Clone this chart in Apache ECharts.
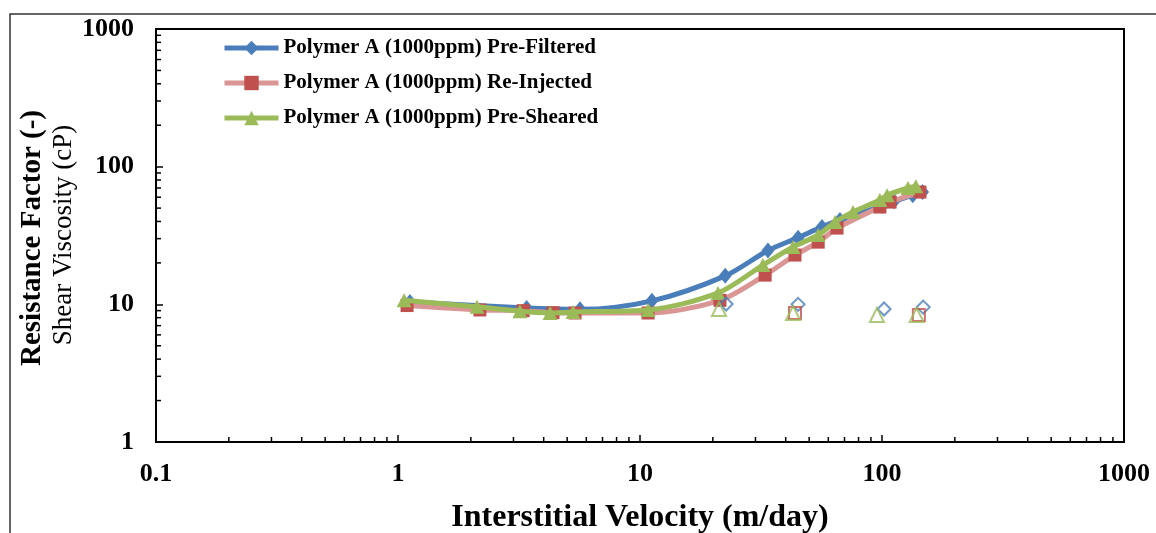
<!DOCTYPE html>
<html>
<head>
<meta charset="utf-8">
<script src="https://cdn.jsdelivr.net/npm/echarts@6/dist/echarts.min.js"></script>
<style>html,body{margin:0;padding:0;background:#fff;}#c{width:1156px;height:533px;}</style>
</head>
<body>
<div id="c"></div>
<script>
// ---- data ----
const seriesNames = ['Polymer A (1000ppm) Pre-Filtered', 'Polymer A (1000ppm) Re-Injected', 'Polymer A (1000ppm) Pre-Sheared'];
const preFilteredX = [1.12, 3.4, 5.65, 11.2, 22.5, 33.8, 45, 56.5, 67, 100, 112, 134, 147];
const preFilteredY = [10.4, 9.4, 9.2, 10.6, 16.1, 24.6, 30.5, 36.5, 41, 52, 56, 62, 65.5];
const reInjectedX = [1.09, 2.18, 3.29, 4.37, 5.39, 10.8, 21.4, 32.9, 43.7, 54.5, 65.2, 98, 108, 143.5];
const reInjectedY = [9.8, 9.1, 9.0, 8.7, 8.65, 8.65, 10.7, 16.3, 22.8, 28.3, 35.8, 50.9, 55.3, 65.4];
const preShearedX = [1.06, 2.12, 3.19, 4.25, 5.29, 10.8, 21, 32.2, 42.9, 54.5, 64, 75.9, 98, 105, 128, 138];
const preShearedY = [10.7, 9.6, 8.9, 8.65, 8.8, 9.1, 12.1, 19.3, 26.1, 31.9, 39.6, 46.8, 57.2, 62, 70, 72];
// shear viscosity (hollow markers)
const viscFilteredX = [22.7, 45, 102, 148];
const viscFilteredY = [10.05, 10.0, 9.25, 9.55];
const viscInjectedX = [43.7, 142];
const viscInjectedY = [8.65, 8.36];
const viscShearedX = [21.2, 42.9, 95.3, 139];
const viscShearedY = [9.25, 8.65, 8.36, 8.36];
// axes
const xTickLabels = ['0.1', '1', '10', '100', '1000'];
const yTickLabels = ['1', '10', '100', '1000'];
const xDecades = [0.1, 1, 10, 100];
const yDecades = [1, 10, 100];
const minorMult = [2, 3, 4, 5, 6, 7, 8, 9];

const zip = (xs, ys) => xs.map((x, i) => [x, ys[i]]);
const xMinor = [];
xDecades.forEach(d => minorMult.forEach(m => xMinor.push([+(d * m).toPrecision(3), 1])));
const yMinor = [];
yDecades.forEach(d => minorMult.forEach(m => yMinor.push([0.1, +(d * m).toPrecision(3)])));

const FONT = "'Liberation Serif','Times New Roman',serif";
const BLUE = '#4A7EBB', RED_L = '#D99694', RED = '#C0504D', GREEN = '#9BBB59';

const chart = echarts.init(document.getElementById('c'), null, {renderer: 'canvas'});
chart.setOption({
  animation: false,
  backgroundColor: '#fff',
  grid: {left: 156, right: 32, top: 29, bottom: 91, show: true, borderColor: '#000', borderWidth: 2,
    containLabel: false, outerBoundsMode: 'none'},
  legend: {
    data: seriesNames,
    orient: 'vertical',
    left: 222, top: 37, padding: 0,
    itemWidth: 54, itemHeight: 18, itemGap: 13,
    lineStyle: {width: 5},
    textStyle: {fontFamily: FONT, fontWeight: 'bold', fontSize: 21, color: '#000', lineHeight: 22}
  },
  xAxis: {
    type: 'log', logBase: 10, min: 0.1, max: 1000,
    name: 'Interstitial Velocity (m/day)', nameLocation: 'middle', nameGap: 60,
    nameTextStyle: {fontFamily: FONT, fontWeight: 'bold', fontSize: 32, color: '#000'},
    axisLine: {show: true, lineStyle: {color: '#000', width: 2}},
    axisTick: {show: true, inside: true, length: 7, lineStyle: {color: '#000', width: 1.5}},
    axisLabel: {fontFamily: FONT, fontWeight: 'bold', fontSize: 26, color: '#000', margin: 19,
      formatter: v => xTickLabels[Math.round(Math.log10(v)) + 1]},
    splitLine: {show: false}
  },
  yAxis: {
    type: 'log', logBase: 10, min: 1, max: 1000,
    axisLine: {show: true, lineStyle: {color: '#000', width: 2}},
    axisTick: {show: true, inside: true, length: 7, lineStyle: {color: '#000', width: 1.5}},
    axisLabel: {fontFamily: FONT, fontWeight: 'bold', fontSize: 26, color: '#000', margin: 22,
      formatter: v => yTickLabels[Math.round(Math.log10(v))]},
    splitLine: {show: false}
  },
  graphic: [
    {type: 'rect', z: -10, shape: {x: 10, y: 14, width: 1400, height: 800},
      style: {fill: 'none', stroke: '#333', lineWidth: 1.5}},
    {type: 'text', x: 33, y: 238, rotation: Math.PI / 2,
      style: {text: 'Resistance Factor (-)', font: "bold 29px 'Liberation Serif'", fill: '#000',
        textAlign: 'center', textVerticalAlign: 'middle', align: 'center', verticalAlign: 'middle'}},
    {type: 'text', x: 64, y: 235, rotation: Math.PI / 2,
      style: {text: 'Shear Viscosity (cP)', font: "27px 'Liberation Serif'", fill: '#000',
        textAlign: 'center', textVerticalAlign: 'middle', align: 'center', verticalAlign: 'middle'}}
  ],
  series: [
    {type: 'custom', name: 'xminor', silent: true, data: xMinor,
      renderItem: (p, api) => { const c = api.coord([api.value(0), api.value(1)]);
        return {type: 'line', shape: {x1: c[0], y1: c[1], x2: c[0], y2: c[1] - 5}, style: {stroke: '#000', lineWidth: 1.5}}; }},
    {type: 'custom', name: 'yminor', silent: true, data: yMinor,
      renderItem: (p, api) => { const c = api.coord([api.value(0), api.value(1)]);
        return {type: 'line', shape: {x1: c[0], y1: c[1], x2: c[0] + 5, y2: c[1]}, style: {stroke: '#000', lineWidth: 1.5}}; }},
    {type: 'line', name: seriesNames[0], data: zip(preFilteredX, preFilteredY), smooth: 0.3,
      symbol: 'diamond', symbolSize: [13, 16], lineStyle: {color: BLUE, width: 5}, itemStyle: {color: BLUE}, z: 3},
    {type: 'line', name: seriesNames[1], data: zip(reInjectedX, reInjectedY), smooth: 0.3,
      symbol: 'rect', symbolSize: 13, lineStyle: {color: RED_L, width: 5}, itemStyle: {color: RED}, z: 4},
    {type: 'line', name: seriesNames[2], data: zip(preShearedX, preShearedY), smooth: 0.3,
      symbol: 'triangle', symbolSize: [15, 14], lineStyle: {color: GREEN, width: 5}, itemStyle: {color: GREEN}, z: 5},
    {type: 'scatter', name: 'visc1', data: zip(viscFilteredX, viscFilteredY), symbol: 'diamond', symbolSize: 13,
      itemStyle: {color: 'rgba(255,255,255,0)', borderColor: BLUE, borderWidth: 2}, z: 6},
    {type: 'scatter', name: 'visc2', data: zip(viscInjectedX, viscInjectedY), symbol: 'rect', symbolSize: 12,
      itemStyle: {color: 'rgba(255,255,255,0)', borderColor: RED, borderWidth: 2}, z: 6},
    {type: 'scatter', name: 'visc3', data: zip(viscShearedX, viscShearedY), symbol: 'triangle', symbolSize: 14,
      itemStyle: {color: 'rgba(255,255,255,0)', borderColor: GREEN, borderWidth: 2}, z: 7}
  ]
});
</script>
</body>
</html>
